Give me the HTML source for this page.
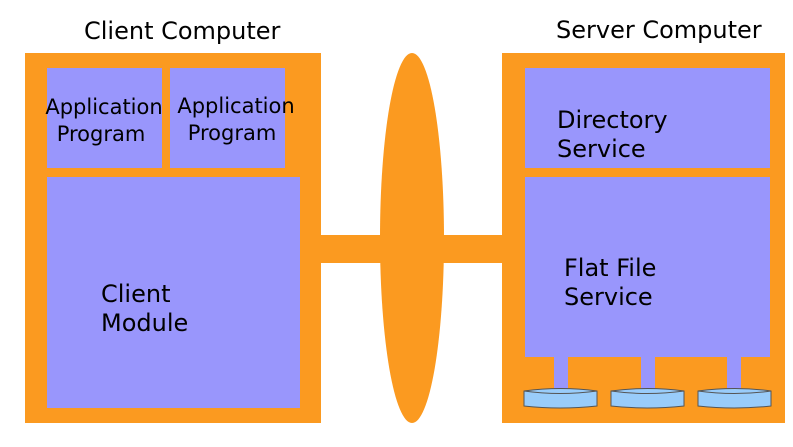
<!DOCTYPE html><html><head><style>body{margin:0;background:#fff}</style></head><body>
<svg width="793" height="442" xmlns="http://www.w3.org/2000/svg" font-family="DejaVu Sans, sans-serif">
<rect x="321" y="235" width="182" height="28" fill="#fb9a20"/>
<ellipse cx="412" cy="238" rx="32" ry="185" fill="#fb9a20"/>
<rect x="25" y="53" width="296" height="370" fill="#fb9a20"/>
<rect x="502" y="53" width="283" height="370" fill="#fb9a20"/>
<g fill="#9996fc">
<rect x="47" y="68" width="115" height="100"/>
<rect x="170" y="68" width="115" height="100"/>
<rect x="47" y="177" width="253" height="231"/>
<rect x="525" y="68" width="245" height="100"/>
<rect x="525" y="177" width="245" height="180"/>
<rect x="554" y="355" width="14" height="35"/>
<rect x="641" y="355" width="14" height="35"/>
<rect x="727" y="355" width="14" height="35"/>
</g>
<g fill="#99ccfa" stroke="#555" stroke-width="1">
<path d="M524,391 v15 q36,4 73,0 v-15 q-36,-5 -73,0z"/>
<path d="M611,391 v15 q36,4 73,0 v-15 q-36,-5 -73,0z"/>
<path d="M698,391 v15 q36,4 73,0 v-15 q-36,-5 -73,0z"/>
</g>
<g fill="none" stroke="#555" stroke-width="1">
<path d="M524,391 q36,5 73,0"/><path d="M611,391 q36,5 73,0"/><path d="M698,391 q36,5 73,0"/>
</g>
<g font-size="24" fill="#000">
<text x="84" y="39">Client Computer</text>
<text x="556" y="38">Server Computer</text>
</g>
<g font-size="21" fill="#000" text-anchor="middle">
<text x="104" y="114">Application</text><text x="101" y="141">Program</text>
<text x="236" y="113">Application</text><text x="232" y="140">Program</text>
</g>
<g font-size="24" fill="#000">
<text x="101" y="302">Client</text><text x="101" y="331">Module</text>
<text x="557" y="128">Directory</text><text x="557" y="157">Service</text>
<text x="564" y="276">Flat File</text><text x="564" y="305">Service</text>
</g>
</svg></body></html>
